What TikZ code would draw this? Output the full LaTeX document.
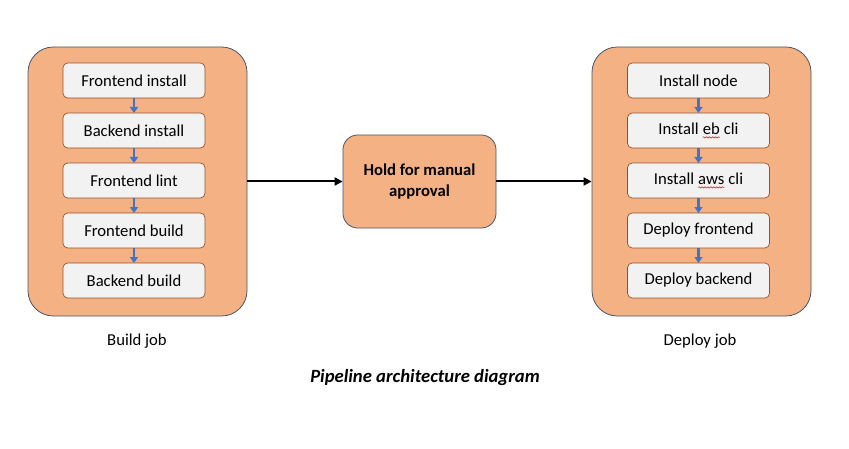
\documentclass[tikz,border=0pt]{standalone}
\definecolor{jobfill}{HTML}{F4B183}
\definecolor{jobline}{HTML}{4A5666}
\definecolor{stepfill}{HTML}{F2F2F2}
\definecolor{stepline}{HTML}{9A4E22}
\definecolor{flowblue}{HTML}{4472C4}
\usepackage{fontspec}
\setmainfont{Carlito}
\usepackage{xcolor}
\usepackage{tikz}
\usetikzlibrary{arrows.meta, positioning, decorations.pathmorphing}

% red spell-check squiggle under a word
\newcommand{\spellmark}[1]{\tikz[baseline=(sw.base)]{%
  \node[inner sep=0pt, outer sep=0pt, minimum width=0pt, minimum height=0pt,
    draw=none, fill=none, sharp corners] (sw) {#1};
  \draw[red, line width=0.4pt, sharp corners, decorate,
    decoration={snake, amplitude=0.5pt, segment length=2.2pt}]
    ([yshift=-2.4pt]sw.base west) -- ([yshift=-2.4pt]sw.base east);}}

\begin{document}
\begin{tikzpicture}[x=0.75pt, y=-0.75pt, font=\fontsize{12.5}{15}\selectfont,
    jobbox/.style={draw=jobline, fill=jobfill, line width=0.6pt, rounded corners=19pt,
      minimum width=164.25pt, minimum height=201.75pt, inner sep=0pt},
    stepbox/.style={draw=stepline, fill=stepfill, line width=0.5pt, rounded corners=3.5pt,
      minimum width=106.5pt, minimum height=26.25pt, inner sep=0pt, outer sep=0pt},
    holdbox/.style={draw=jobline, fill=jobfill, line width=0.6pt, rounded corners=11pt,
      minimum width=114.75pt, minimum height=69.75pt, inner sep=0pt, align=center,
      font=\fontsize{12.5}{15.75}\selectfont\bfseries},
    flow/.style={-{Triangle[length=4.5pt, width=6pt]}, flowblue, line width=1.6pt},
    link/.style={-{Triangle[length=6pt, width=6pt]}, line width=1.5pt}]
    \useasboundingbox (0,0) rectangle (849,449);
    % Job containers
    \node[jobbox] (build) at (137.5,181.5) {};
    \node[jobbox] (deploy) at (701.5,181.5) {};
    % Manual approval step
    \node[holdbox] (hold) at (419.5,181.5) {Hold for manual\\approval};
    % Build job steps
    \node[stepbox] (fi) at (134,80.5) {Frontend install};
    \node[stepbox, below=11.25pt of fi] (bi) {Backend install};
    \node[stepbox, below=11.25pt of bi] (fl) {Frontend lint};
    \node[stepbox, below=11.25pt of fl] (fb) {Frontend build};
    \node[stepbox, below=11.25pt of fb] (bb) {Backend build};
    % Deploy job steps
    \node[stepbox] (in) at (698.5,80.5) {Install node};
    \node[stepbox, below=11.25pt of in] (ie) {Install \spellmark{eb} cli};
    \node[stepbox, below=11.25pt of ie] (ia) {Install \spellmark{aws} cli};
    \node[stepbox, below=11.25pt of ia] (df) {Deploy frontend};
    \node[stepbox, below=11.25pt of df] (db) {Deploy backend};
    % Step order
    \foreach \a/\b in {fi/bi, bi/fl, fl/fb, fb/bb, in/ie, ie/ia, ia/df, df/db}
      \draw[flow] (\a) -- (\b);
    % Job links
    \draw[link] (build.east) -- (hold.west);
    \draw[link] (hold.east) -- (deploy.west);
    % Job labels
    \node (buildlbl) at (137,341) {Build job};
    \node (deploylbl) at (700,341) {Deploy job};
    % Caption
    \node[font=\fontsize{14}{16}\selectfont\bfseries\itshape] (caption) at (425,378) {Pipeline architecture diagram};
\end{tikzpicture}
\end{document}
